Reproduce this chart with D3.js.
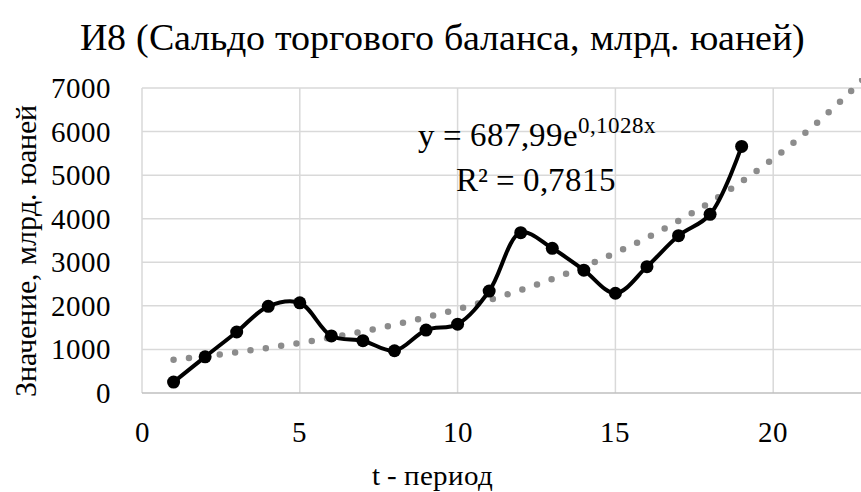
<!DOCTYPE html>
<html>
<head>
    <meta charset="UTF-8"/>
    <title>Chart</title>
    <script src="https://d3js.org/d3.v7.min.js"></script>
    <style>
        @font-face {
            font-family: "ChartSerif";
            src: local("Liberation Serif"), local("LiberationSerif"), local("LiberationSerif-Regular"), local("Tinos"), local("Times New Roman");
        }
        body { margin: 0; background: #fff; }
        svg, svg text { font-family: "ChartSerif", "Liberation Serif", Tinos, "Times New Roman", FreeSerif, serif; }
    </style>
</head>
<body>
    <script>
        var w = 861;
        var h = 492;
        var serif = "ChartSerif, 'Liberation Serif', Tinos, 'Times New Roman', FreeSerif, serif";

        var periods = [1, 2, 3, 4, 5, 6, 7, 8, 9, 10, 11, 12, 13, 14, 15, 16, 17, 18, 19];
        var values = [250, 830, 1400, 1990, 2070, 1310, 1200, 970, 1445, 1580, 2340, 3680, 3320, 2820, 2290, 2900, 3610, 4100, 5660];
        var xTicks = [0, 5, 10, 15, 20];
        var yTicks = [0, 1000, 2000, 3000, 4000, 5000, 6000, 7000];
        // exponential trend shown on the chart
        var trendA = 687.99;
        var trendB = 0.1028;

        var plotLeft = 142, plotTop = 88, plotBottom = 393;
        var unit = 31.56;

        var xScale = d3.scaleLinear().domain([0, 25]).range([plotLeft, plotLeft + 25 * unit]);
        var yScale = d3.scaleLinear().domain([0, 7000]).range([plotBottom, plotTop]);

        var svg = d3.select("body")
            .append("svg")
            .attr("width", w)
            .attr("height", h)
            .attr("font-family", serif);

        svg.append("defs").append("clipPath").attr("id", "plot")
            .append("rect")
            .attr("x", plotLeft).attr("y", plotTop - 10)
            .attr("width", w - plotLeft).attr("height", plotBottom - plotTop + 20);

        // grid
        svg.append("g").selectAll("line")
            .data(yTicks.slice(1))
            .enter().append("line")
            .attr("x1", plotLeft).attr("x2", w)
            .attr("y1", function(d) { return yScale(d); })
            .attr("y2", function(d) { return yScale(d); })
            .attr("stroke", "#d9d9d9").attr("stroke-width", 1.5);

        svg.append("g").selectAll("line")
            .data(xTicks)
            .enter().append("line")
            .attr("x1", function(d) { return xScale(d); })
            .attr("x2", function(d) { return xScale(d); })
            .attr("y1", plotTop).attr("y2", plotBottom)
            .attr("stroke", "#d9d9d9").attr("stroke-width", 1.5);

        // x axis line
        svg.append("line")
            .attr("x1", plotLeft).attr("x2", w)
            .attr("y1", plotBottom).attr("y2", plotBottom)
            .attr("stroke", "#bfbfbf").attr("stroke-width", 1.5);

        // tick labels
        svg.append("g").selectAll("text")
            .data(yTicks)
            .enter().append("text")
            .attr("x", 111)
            .attr("y", function(d) { return yScale(d) + 10; })
            .attr("text-anchor", "end")
            .attr("font-size", "29px")
            .attr("font-family", serif)
            .text(function(d) { return d; });

        svg.append("g").selectAll("text")
            .data(xTicks)
            .enter().append("text")
            .attr("x", function(d) { return xScale(d); })
            .attr("y", 442)
            .attr("text-anchor", "middle")
            .attr("font-size", "29px")
            .attr("font-family", serif)
            .text(function(d) { return d; });

        // trend line (dotted)
        var trendX = d3.range(1, 24.01, 0.1);
        var trendLine = d3.line()
            .x(function(d) { return xScale(d); })
            .y(function(d) { return yScale(trendA * Math.exp(trendB * d)); });

        svg.append("path")
            .datum(trendX)
            .attr("clip-path", "url(#plot)")
            .attr("d", trendLine)
            .attr("fill", "none")
            .attr("stroke", "#8c8c8c")
            .attr("stroke-width", 6.5)
            .attr("stroke-linecap", "round")
            .attr("stroke-dasharray", "0 15.5");

        // data line
        var line = d3.line()
            .x(function(d, i) { return xScale(periods[i]); })
            .y(function(d) { return yScale(d); })
            .curve(d3.curveCatmullRom.alpha(0.5));

        svg.append("path")
            .datum(values)
            .attr("d", line)
            .attr("fill", "none")
            .attr("stroke", "#000")
            .attr("stroke-width", 4);

        svg.append("g").selectAll("circle")
            .data(values)
            .enter().append("circle")
            .attr("cx", function(d, i) { return xScale(periods[i]); })
            .attr("cy", function(d) { return yScale(d); })
            .attr("r", 6.5)
            .attr("fill", "#000");

        // equation
        var eq = svg.append("text")
            .attr("x", 418)
            .attr("y", 146)
            .attr("font-size", "33px")
            .attr("font-family", serif);
        eq.append("tspan").text("y = 687,99e");
        eq.append("tspan").attr("dy", -13).attr("font-size", "23px").text("0,1028x");

        svg.append("text")
            .attr("x", 536)
            .attr("y", 191)
            .attr("text-anchor", "middle")
            .attr("font-size", "33px")
            .attr("font-family", serif)
            .text("R² = 0,7815");

        // title
        svg.append("text")
            .attr("x", 442)
            .attr("y", 50)
            .attr("text-anchor", "middle")
            .attr("font-size", "38px")
            .attr("font-family", serif)
            .text("И8 (Сальдо торгового баланса, млрд. юаней)");

        // axis labels
        svg.append("text")
            .attr("text-anchor", "middle")
            .attr("transform", "translate(36,251) rotate(-90)")
            .attr("font-size", "30px")
            .attr("font-family", serif)
            .text("Значение, млрд. юаней");

        svg.append("text")
            .attr("x", 432)
            .attr("y", 485)
            .attr("text-anchor", "middle")
            .attr("font-size", "29px")
            .attr("font-family", serif)
            .text("t - период");
    </script>
</body>
</html>
